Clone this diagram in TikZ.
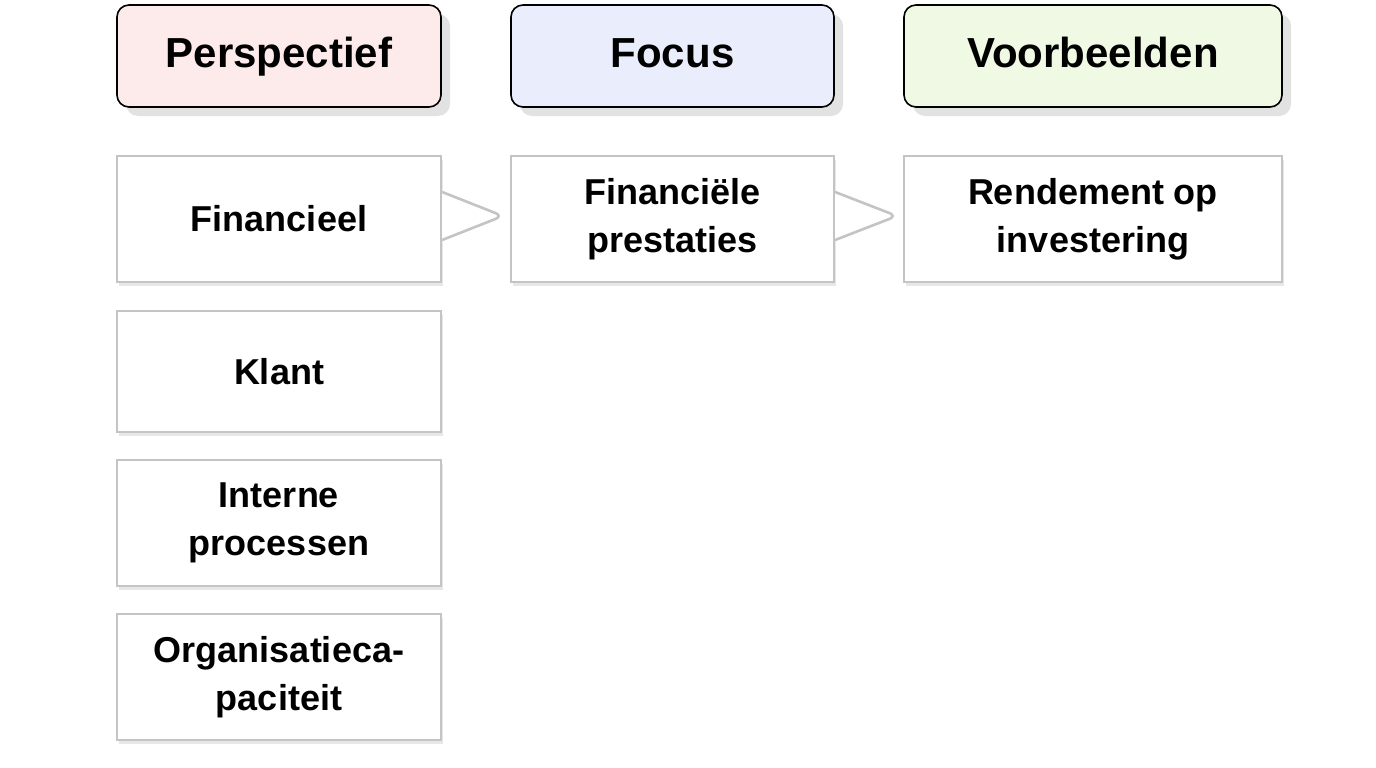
\documentclass[tikz,border=0pt]{standalone}
\usepackage{fontspec}
\setmainfont{Liberation Sans}[BoldFont={Liberation Sans Bold}]
\usetikzlibrary{positioning,shadows}
\definecolor{kopRood}{HTML}{FCEBEA}
\definecolor{kopBlauw}{HTML}{E9EDFC}
\definecolor{kopGroen}{HTML}{F0F9E3}
\definecolor{rand}{HTML}{C4C4C4}
\tikzset{
  kop/.style={draw=black, line width=1.6pt, rounded corners=12pt, minimum height=102pt,
    text height=30pt, text depth=8pt,
    font=\bfseries\fontsize{42}{44}\selectfont,
    drop shadow={shadow xshift=9pt, shadow yshift=-9pt, fill=black!22}},
  vak/.style={draw=rand, line width=2.2pt, fill=white, minimum height=126pt, align=center,
    font=\bfseries\fontsize{36}{48}\selectfont,
    drop shadow={shadow xshift=2pt, shadow yshift=-4pt, fill=black!18}},
  wig/.style={draw=rand, line width=2.6pt, fill=white, rounded corners=8pt}
}
\begin{document}
\begin{tikzpicture}[x=1pt, y=-1pt]
\useasboundingbox[fill=white] (0,0) rectangle (1376,768);
% koppen
\node[kop, fill=kopRood, minimum width=324pt] (perspectief) at (279,56) {Perspectief};
\node[kop, fill=kopBlauw, minimum width=323pt] (focus) at (672.5,56) {Focus};
\node[kop, fill=kopGroen, minimum width=378pt] (voorbeelden) at (1093,56) {Voorbeelden};
% perspectieven
\node[vak, minimum width=324pt] (financieel) at (279,219) {Financieel};
\node[vak, minimum width=324pt, minimum height=121pt] (klant) at (279,371.5) {Klant};
\node[vak, minimum width=324pt] (intern) at (279,523) {Interne\\processen};
\node[vak, minimum width=324pt] (leren) at (279,677) {Organisatieca-\\paciteit};
% focus en voorbeeld
\node[vak, minimum width=323pt] (prestaties) at (672.5,219) {Financiële\\prestaties};
\node[vak, minimum width=378pt] (rendement) at (1093,219) {Rendement op\\investering};
% wiggen
\draw[wig] ([yshift=27pt]financieel.east) -- (503,216) -- ([yshift=-21pt]financieel.east);
\draw[wig] ([yshift=27pt]prestaties.east) -- (897,216) -- ([yshift=-21pt]prestaties.east);
\end{tikzpicture}
\end{document}
